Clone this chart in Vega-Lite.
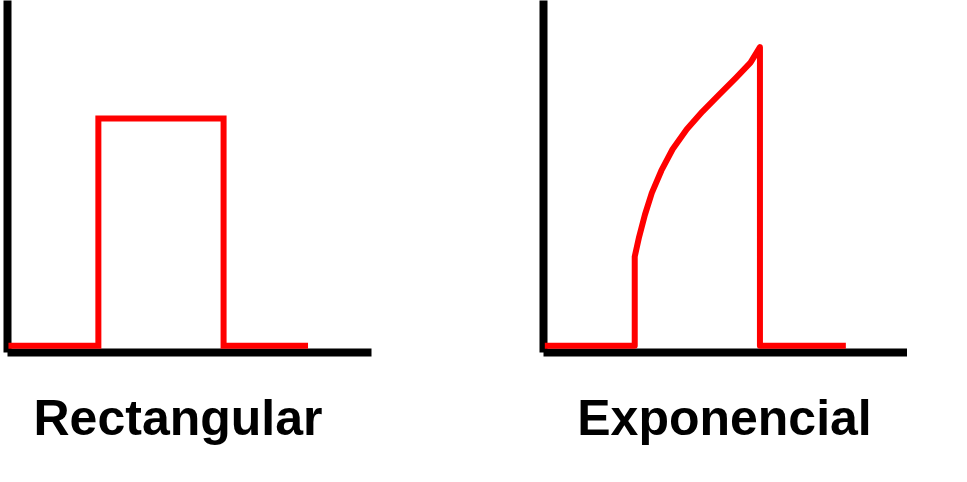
{
  "$schema": "https://vega.github.io/schema/vega-lite/v6.json",
  "padding": {"left": -4, "top": 0, "right": 0, "bottom": 0},
  "background": "white",
  "spacing": 170,
  "config": {
    "view": {"stroke": null},
    "axis": {
      "grid": false, "ticks": false, "labels": false,
      "domainColor": "black", "domainWidth": 8, "domainCap": "butt",
      "minExtent": 0, "offset": 0,
      "titleFont": "Liberation Sans", "titleFontWeight": "bold", "titleFontSize": 50,
      "titleColor": "black", "titleBaseline": "alphabetic"
    }
  },
  "datasets": {
    "rect": [
      {"i": 0, "t": 0.04, "v": 0.18},
      {"i": 1, "t": 2.51, "v": 0.18},
      {"i": 2, "t": 2.51, "v": 6.63},
      {"i": 3, "t": 5.95, "v": 6.63},
      {"i": 4, "t": 5.95, "v": 0.18},
      {"i": 5, "t": 8.27, "v": 0.18}
    ],
    "expo": [
      {"i": 0, "t": 0.05, "v": 0.18},
      {"i": 1, "t": 2.52, "v": 0.18},
      {"i": 2, "t": 2.52, "v": 2.71},
      {"i": 3, "t": 2.64, "v": 3.27},
      {"i": 4, "t": 2.8, "v": 3.9},
      {"i": 5, "t": 2.99, "v": 4.52},
      {"i": 6, "t": 3.25, "v": 5.15},
      {"i": 7, "t": 3.56, "v": 5.76},
      {"i": 8, "t": 3.95, "v": 6.33},
      {"i": 9, "t": 4.38, "v": 6.83},
      {"i": 10, "t": 4.84, "v": 7.31},
      {"i": 11, "t": 5.3, "v": 7.79},
      {"i": 12, "t": 5.7, "v": 8.22},
      {"i": 13, "t": 5.96, "v": 8.66},
      {"i": 14, "t": 5.96, "v": 0.18},
      {"i": 15, "t": 8.32, "v": 0.18}
    ]
  },
  "hconcat": [
    {
      "width": 364, "height": 352,
      "data": {"name": "rect"},
      "mark": {"type": "line", "color": "red", "strokeWidth": 6, "strokeJoin": "miter"},
      "encoding": {
        "x": {"field": "t", "type": "quantitative", "scale": {"domain": [0, 10], "nice": false, "zero": false},
              "axis": {"title": "Rectangular", "titleX": 170.5, "titleY": 82.5}},
        "y": {"field": "v", "type": "quantitative", "scale": {"domain": [0, 10], "nice": false, "zero": false},
              "axis": {"title": null}},
        "order": {"field": "i"}
      }
    },
    {
      "width": 364, "height": 352,
      "data": {"name": "expo"},
      "mark": {"type": "line", "color": "red", "strokeWidth": 6, "strokeJoin": "round"},
      "encoding": {
        "x": {"field": "t", "type": "quantitative", "scale": {"domain": [0, 10], "nice": false, "zero": false},
              "axis": {"title": "Exponencial", "titleX": 181, "titleY": 82.5}},
        "y": {"field": "v", "type": "quantitative", "scale": {"domain": [0, 10], "nice": false, "zero": false},
              "axis": {"title": null}},
        "order": {"field": "i"}
      }
    }
  ]
}
